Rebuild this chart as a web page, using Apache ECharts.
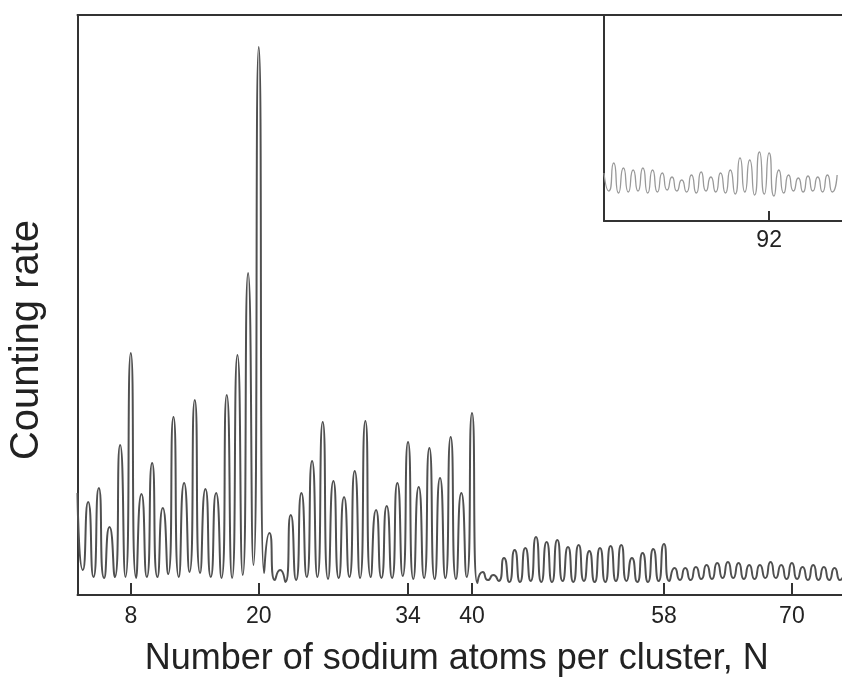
<!DOCTYPE html>
<html><head><meta charset="utf-8">
<script src="https://cdn.jsdelivr.net/npm/echarts@6/dist/echarts.min.js"></script>
<style>html,body{margin:0;padding:0;background:#fff}#c{width:842px;height:677px}</style>
</head><body><div id="c"></div>
<script>
// Main spectrum: peak heights at N = 3, 4, 5, ... and valley heights between them (N + 0.5)
const mainStartN = 3;
const mainPeaks = [102,93,107,68,150,242,101,132,87,178,112,195,106,102,200,240,322,548,62,25,
  80,102,134,173,114,98,124,174,85,89,112,153,108,147,117,158,102,182,23,20,
  37,45,47,58,53,55,48,50,44,47,49,50,37,42,46,51,
  27,27,28,30,32,33,32,30,30,33,30,32,28,30,28,27,28];
const mainValleys = [25,18,17,18,18,17,18,18,21,18,23,22,18,17,17,20,30,22,15,13,
  15,18,18,16,17,18,17,18,17,17,19,16,17,16,17,16,18,12,15,14,
  13,13,14,13,13,14,13,14,13,13,14,14,13,13,14,14,
  15,15,16,16,17,17,16,16,17,17,16,16,15,15,15,15];
// Inset spectrum: N = 75 ... 99
const insetStartN = 75;
const insetPeaks = [48,58,53,51,53,51,48,44,41,46,49,44,48,51,63,61,69,68,51,46,43,45,44,46,46];
const insetValleys = [30,28,29,30,28,29,31,30,29,28,30,29,28,27,29,26,27,25,28,30,29,30,29,29];
// Tick labels
const mainTickLabels = [8,20,34,40,58,70];
const insetTickLabels = [92];

function trace(start, peaks, valleys){
  const d = [];
  for (let i = 0; i < peaks.length; i++) {
    d.push([start + i, peaks[i]]);
    if (i < valleys.length) d.push([start + i + 0.5, valleys[i]]);
  }
  return d;
}

const FONT = 'Liberation Sans, Arial, Helvetica, sans-serif';
const INK = '#222';
const lineAx = {show:true, onZero:false, lineStyle:{color:'#333', width:2}};
const none = {show:false};
const chart = echarts.init(document.getElementById('c'), null, {renderer:'canvas'});
chart.setOption({
  animation: false,
  backgroundColor: '#fff',
  grid: [
    {left:77.5, top:15, right:0, height:580, show:false, outerBoundsMode:'none', containLabel:false},
    {left:604, top:15, right:0, height:206, show:true, borderWidth:0, backgroundColor:'#fff', outerBoundsMode:'none', containLabel:false}
  ],
  xAxis: [
    {type:'value', gridIndex:0, min:3, max:74.7,
     name:'Number of sodium atoms per cluster, N', nameLocation:'middle', nameGap:46,
     nameTextStyle:{fontFamily:FONT, fontSize:36, color:INK, padding:[0,6,0,0]},
     axisLine:lineAx,
     axisTick:{show:true, inside:true, length:12, customValues:mainTickLabels, lineStyle:{color:'#333', width:2}},
     axisLabel:{show:true, customValues:mainTickLabels, margin:10, fontFamily:FONT, fontSize:23, color:INK},
     splitLine:none},
    {type:'value', gridIndex:0, position:'top', min:3, max:74.7,
     axisLine:lineAx, axisTick:none, axisLabel:none, splitLine:none},
    {type:'value', gridIndex:1, min:75, max:99.5,
     axisLine:lineAx,
     axisTick:{show:true, inside:true, length:10, customValues:insetTickLabels, lineStyle:{color:'#333', width:2}},
     axisLabel:{show:true, customValues:insetTickLabels, margin:8, fontFamily:FONT, fontSize:23, color:INK},
     splitLine:none},
    {type:'value', gridIndex:1, position:'top', min:75, max:99.5,
     axisLine:lineAx, axisTick:none, axisLabel:none, splitLine:none}
  ],
  yAxis: [
    {type:'value', gridIndex:0, min:0, max:580,
     name:'Counting rate', nameLocation:'middle', nameGap:31, nameRotate:90,
     nameTextStyle:{fontFamily:FONT, fontSize:40, color:INK, padding:[0,70,0,0]},
     axisLine:lineAx, axisTick:none, axisLabel:none, splitLine:none},
    {type:'value', gridIndex:1, min:0, max:206,
     axisLine:lineAx, axisTick:none, axisLabel:none, splitLine:none}
  ],
  series: [
    {type:'line', xAxisIndex:0, yAxisIndex:0, data:trace(mainStartN, mainPeaks, mainValleys),
     showSymbol:false, smooth:0.75, clip:true, lineStyle:{color:'#505050', width:2}},
    {type:'line', xAxisIndex:2, yAxisIndex:1, data:trace(insetStartN, insetPeaks, insetValleys),
     showSymbol:false, smooth:0.75, clip:true, lineStyle:{color:'#999', width:1.3}}
  ]
});
</script></body></html>
